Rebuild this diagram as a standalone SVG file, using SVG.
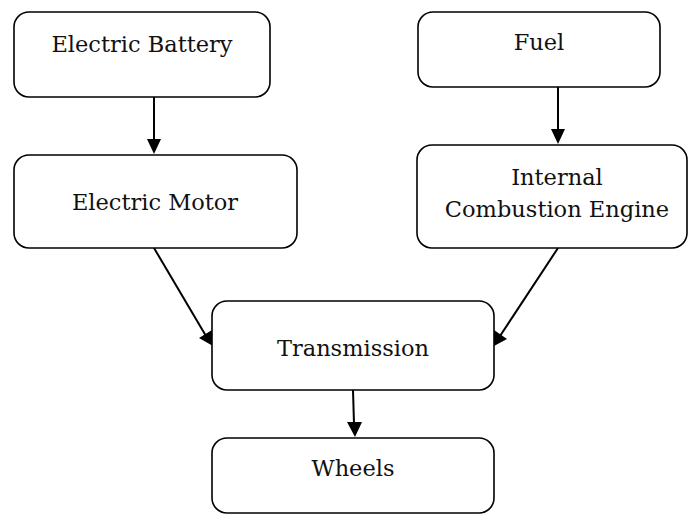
<svg xmlns="http://www.w3.org/2000/svg" width="689" height="515" viewBox="0 0 689 515">
<style>
.box{fill:#fff;stroke:#000;stroke-width:1.6}
.lbl{font-family:"DejaVu Serif","Liberation Serif",serif;font-size:22.5px;fill:#111;text-anchor:middle}
</style>
<rect width="689" height="515" fill="#fff"/>
<g id="connectors">
<line x1="154" y1="97" x2="154" y2="140" stroke="#000" stroke-width="2"/>
<polygon points="147,139 161,139 154,154" fill="#000"/>
<line x1="558" y1="87" x2="558" y2="130" stroke="#000" stroke-width="2"/>
<polygon points="551,129 565,129 558,144" fill="#000"/>
<line x1="154" y1="248" x2="206" y2="336" stroke="#000" stroke-width="2"/>
<polygon points="199,338 212,330 213,346" fill="#000"/>
<line x1="558" y1="248" x2="500" y2="336" stroke="#000" stroke-width="2"/>
<polygon points="494,330 507,339 494,346" fill="#000"/>
<line x1="353" y1="390" x2="354" y2="424" stroke="#000" stroke-width="2"/>
<polygon points="347,422 362,422 355,437" fill="#000"/>
</g>
<g id="battery">
<rect class="box" x="14" y="12" width="256" height="85" rx="15"/>
<text class="lbl" x="142" y="52">Electric Battery</text>
</g>
<g id="motor">
<rect class="box" x="14" y="155" width="283" height="93" rx="15"/>
<text class="lbl" x="155" y="210">Electric Motor</text>
</g>
<g id="fuel">
<rect class="box" x="418" y="12" width="242" height="75" rx="15"/>
<text class="lbl" x="539" y="50">Fuel</text>
</g>
<g id="engine">
<rect class="box" x="417" y="145" width="270" height="103" rx="15"/>
<text class="lbl" x="557" y="185">Internal</text>
<text class="lbl" x="557" y="217">Combustion Engine</text>
</g>
<g id="transmission">
<rect class="box" x="212" y="301" width="282" height="89" rx="15"/>
<text class="lbl" x="353" y="356">Transmission</text>
</g>
<g id="wheels">
<rect class="box" x="212" y="438" width="282" height="75" rx="15"/>
<text class="lbl" x="353" y="476">Wheels</text>
</g>
</svg>
